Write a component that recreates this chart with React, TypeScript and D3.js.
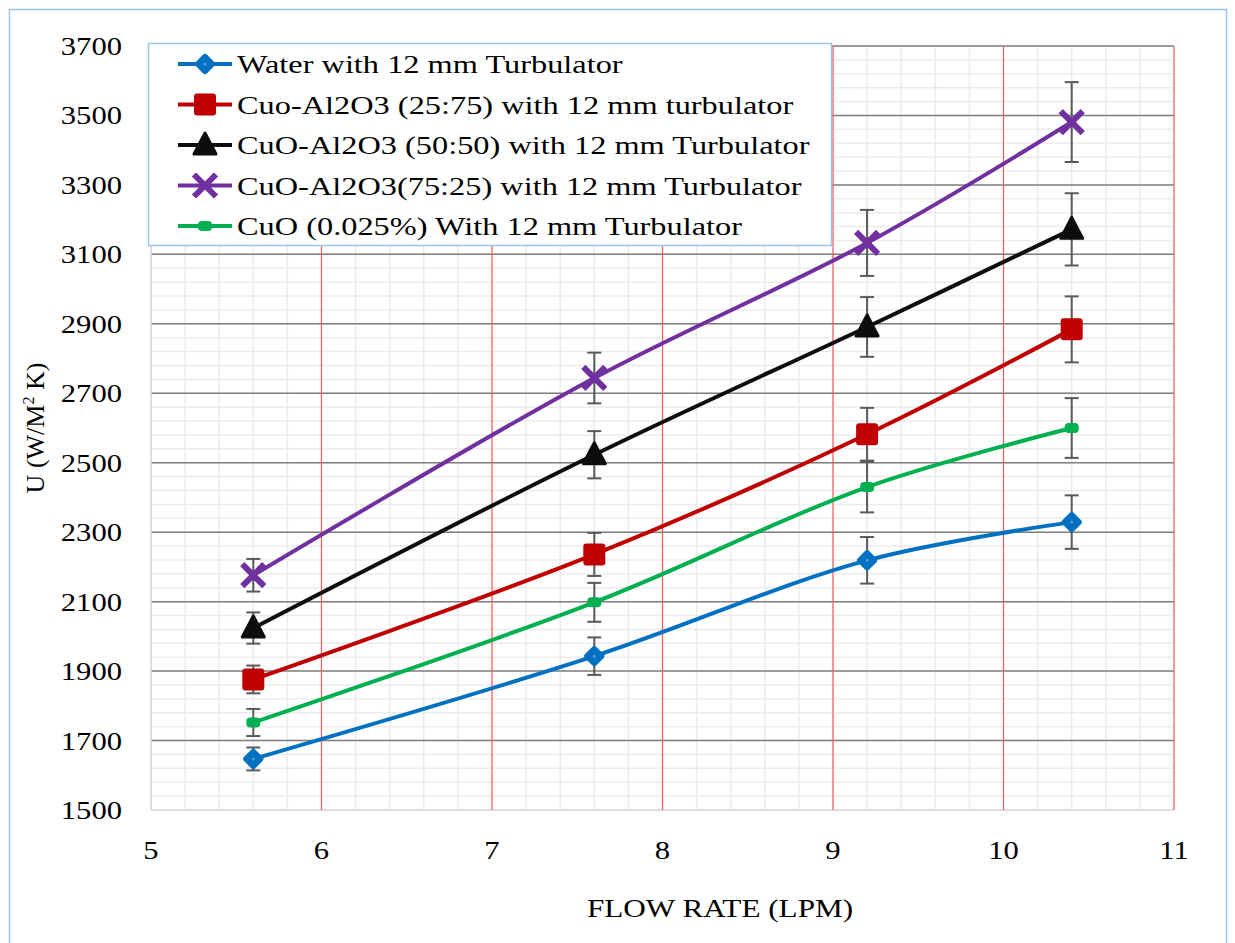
import React, { useEffect, useRef } from 'react';
import * as d3 from 'd3';

const flowRates = [5.6, 7.6, 9.2, 10.4];

const seriesNames = [
  'Water with 12 mm Turbulator',
  'Cuo-Al2O3 (25:75) with 12 mm turbulator',
  'CuO-Al2O3 (50:50) with 12 mm Turbulator',
  'CuO-Al2O3(75:25) with 12 mm Turbulator',
  'CuO (0.025%) With 12 mm Turbulator',
];

const waterU = [1647, 1943, 2219, 2329];
const mix2575U = [1876, 2236, 2582, 2884];
const mix5050U = [2024, 2523, 2891, 3172];
const mix7525U = [2176, 2744, 3133, 3481];
const cuoU = [1752, 2098, 2430, 2600];

const waterErr = [33, 54, 67, 77];
const mix2575Err = [40, 62, 76, 95];
const mix5050Err = [45, 68, 86, 104];
const mix7525Err = [47, 73, 95, 115];
const cuoErr = [39, 56, 73, 86];

const xTicks = [5, 6, 7, 8, 9, 10, 11];
const yTicks = [1500, 1700, 1900, 2100, 2300, 2500, 2700, 2900, 3100, 3300, 3500, 3700];

const FONT = 'Liberation Serif';
// the reference picture is stretched sideways, text included
const SX = 1.2;

const App = () => {
  const ref = useRef<SVGSVGElement>(null);
  const W = 1235, H = 943;
  const plot = { left: 151, right: 1174, top: 46, bottom: 810 };

  useEffect(() => {
    const svg = d3.select(ref.current);
    svg.selectAll('*').remove();

    const x = d3.scaleLinear().domain([5, 11]).range([plot.left, plot.right]);
    const y = d3.scaleLinear().domain([1500, 3700]).range([plot.bottom, plot.top]);

    const series = [
      { name: seriesNames[0], values: waterU, err: waterErr, color: '#0070C0', marker: 'diamond' },
      { name: seriesNames[1], values: mix2575U, err: mix2575Err, color: '#C00000', marker: 'square' },
      { name: seriesNames[2], values: mix5050U, err: mix5050Err, color: '#0D0D0D', marker: 'triangle' },
      { name: seriesNames[3], values: mix7525U, err: mix7525Err, color: '#7030A0', marker: 'x' },
      { name: seriesNames[4], values: cuoU, err: cuoErr, color: '#00B050', marker: 'dot' },
    ];

    const label = (parent, px, py, txt, anchor, size, sx = SX) =>
      parent.append('text')
        .attr('transform', `translate(${px},${py}) scale(${sx},1)`)
        .attr('text-anchor', anchor)
        .attr('font-family', FONT)
        .attr('font-size', size)
        .attr('fill', '#000')
        .text(txt);

    // outer chart border
    svg.append('rect')
      .attr('x', 9.5).attr('y', 9.5)
      .attr('width', 1217).attr('height', 940)
      .attr('fill', 'white')
      .attr('stroke', '#9DC3E6').attr('stroke-width', 1.5);

    const g = svg.append('g');

    // minor grid
    const minorX = d3.range(5, 11.001, 0.2);
    const minorY = d3.range(1500, 3700.1, 40);
    g.selectAll('.mx').data(minorX).enter().append('line')
      .attr('x1', d => x(d)).attr('x2', d => x(d))
      .attr('y1', plot.top).attr('y2', plot.bottom)
      .attr('stroke', '#EBEBEB').attr('stroke-width', 1.5);
    g.selectAll('.my').data(minorY).enter().append('line')
      .attr('x1', plot.left).attr('x2', plot.right)
      .attr('y1', d => y(d)).attr('y2', d => y(d))
      .attr('stroke', '#EBEBEB').attr('stroke-width', 1.5);

    // major horizontal grid
    g.selectAll('.hy').data(yTicks.slice(1)).enter().append('line')
      .attr('x1', plot.left).attr('x2', plot.right)
      .attr('y1', d => y(d)).attr('y2', d => y(d))
      .attr('stroke', '#7F7F7F').attr('stroke-width', 1.5);

    // axis lines
    g.append('line')
      .attr('x1', plot.left).attr('x2', plot.right)
      .attr('y1', plot.bottom).attr('y2', plot.bottom)
      .attr('stroke', '#D9D9D9').attr('stroke-width', 1.5);
    g.append('line')
      .attr('x1', plot.left).attr('x2', plot.left)
      .attr('y1', plot.top).attr('y2', plot.bottom)
      .attr('stroke', '#D9D9D9').attr('stroke-width', 1.5);

    // major vertical grid (red)
    g.selectAll('.vx').data(xTicks.slice(1)).enter().append('line')
      .attr('x1', d => x(d)).attr('x2', d => x(d))
      .attr('y1', plot.top).attr('y2', plot.bottom)
      .attr('stroke', '#FF5B5B').attr('stroke-width', 1.2);

    // tick labels
    yTicks.forEach(t => label(svg, 122, y(t) + 9, t, 'end', 25.5));
    xTicks.forEach(t => label(svg, x(t), 859, t, 'middle', 25.5));

    // axis titles
    label(svg, 720, 917, 'FLOW RATE (LPM)', 'middle', 26);
    const yl = svg.append('text')
      .attr('transform', 'translate(44,428) rotate(-90)')
      .attr('text-anchor', 'middle')
      .attr('font-family', FONT)
      .attr('font-size', 26);
    yl.append('tspan').text('U (W/M');
    yl.append('tspan').attr('dy', -10).attr('font-size', 16).text('2');
    yl.append('tspan').attr('dy', 10).text(' K)');

    const line = d3.line<number>()
      .x((d, i) => x(flowRates[i]))
      .y(d => y(d))
      .curve(d3.curveCatmullRom.alpha(0.5));

    const drawMarker = (sel, type, color, cx, cy) => {
      if (type === 'diamond') {
        sel.append('rect')
          .attr('x', cx - 8).attr('y', cy - 8).attr('width', 16).attr('height', 16)
          .attr('rx', 3)
          .attr('transform', `rotate(45,${cx},${cy})`)
          .attr('fill', color);
        sel.append('circle').attr('cx', cx).attr('cy', cy).attr('r', 1.5).attr('fill', '#5B9BD5');
      } else if (type === 'square') {
        sel.append('rect')
          .attr('x', cx - 11).attr('y', cy - 11).attr('width', 22).attr('height', 22)
          .attr('rx', 3).attr('fill', color);
      } else if (type === 'triangle') {
        sel.append('path')
          .attr('d', `M${cx},${cy - 12}L${cx + 11},${cy + 9}L${cx - 11},${cy + 9}Z`)
          .attr('fill', color).attr('stroke', color)
          .attr('stroke-width', 3).attr('stroke-linejoin', 'round');
      } else if (type === 'x') {
        sel.append('path')
          .attr('d', `M${cx - 11},${cy - 11}L${cx + 11},${cy + 11}M${cx + 11},${cy - 11}L${cx - 11},${cy + 11}`)
          .attr('stroke', color).attr('stroke-width', 6);
      } else {
        sel.append('rect')
          .attr('x', cx - 7).attr('y', cy - 5).attr('width', 14).attr('height', 10)
          .attr('rx', 4).attr('fill', color);
      }
    };

    // error bars
    series.forEach(s => {
      const eg = svg.append('g').attr('stroke', '#595959').attr('stroke-width', 2);
      s.values.forEach((v, i) => {
        const cx = x(flowRates[i]);
        const y1 = y(v + s.err[i]), y0 = y(v - s.err[i]);
        eg.append('line').attr('x1', cx).attr('x2', cx).attr('y1', y1).attr('y2', y0);
        eg.append('line').attr('x1', cx - 7).attr('x2', cx + 7).attr('y1', y1).attr('y2', y1);
        eg.append('line').attr('x1', cx - 7).attr('x2', cx + 7).attr('y1', y0).attr('y2', y0);
      });
    });

    // lines + markers
    series.forEach(s => {
      svg.append('path')
        .datum(s.values)
        .attr('d', line)
        .attr('fill', 'none')
        .attr('stroke', s.color)
        .attr('stroke-width', 4)
        .attr('stroke-linecap', 'round');
      const mg = svg.append('g');
      s.values.forEach((v, i) => drawMarker(mg, s.marker, s.color, x(flowRates[i]), y(v)));
    });

    // legend
    const lg = svg.append('g');
    lg.append('rect')
      .attr('x', 148.5).attr('y', 43.5).attr('width', 683).attr('height', 202)
      .attr('fill', 'white').attr('stroke', '#9DC3E6').attr('stroke-width', 1.5);
    series.forEach((s, i) => {
      const ly = 64 + i * 40.5;
      lg.append('line')
        .attr('x1', 178).attr('x2', 232).attr('y1', ly).attr('y2', ly)
        .attr('stroke', s.color).attr('stroke-width', 4);
      drawMarker(lg, s.marker, s.color, 205, ly);
      label(lg, 237, ly + 9, s.name, 'start', 26, 1.245);
    });
  }, []);

  return (
    <svg ref={ref} width={W} height={H}
      style={{ position: 'fixed', left: 0, top: 0, background: 'white' }} />
  );
};

export default App;
